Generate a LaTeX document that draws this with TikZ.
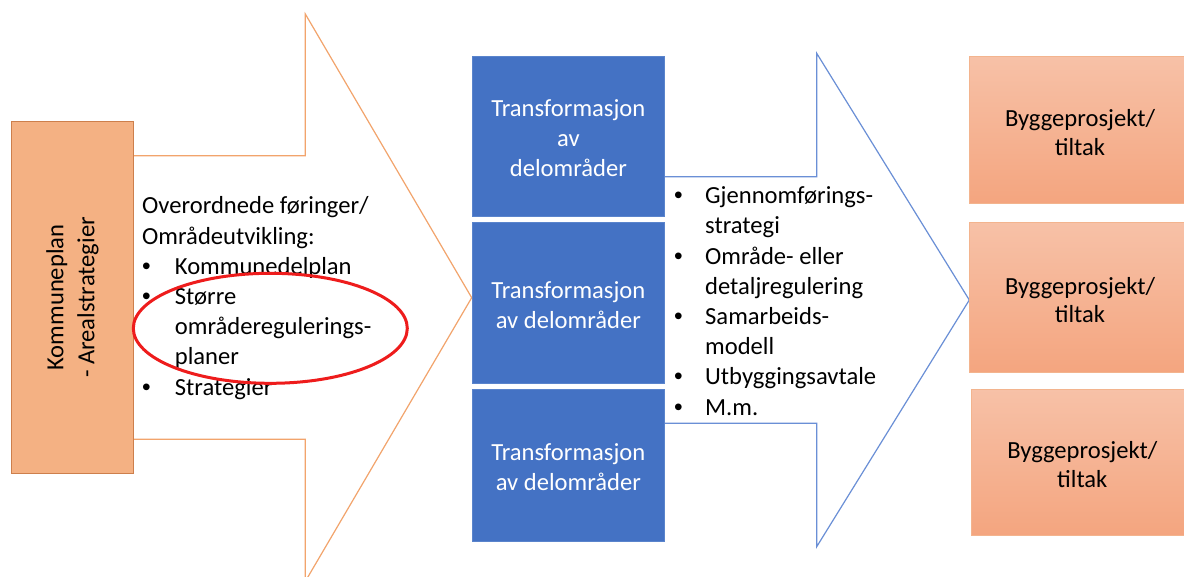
\documentclass[tikz,border=0pt]{standalone}
\usepackage{fontspec}
\setmainfont{Carlito}
\newfontfamily\bulfont{Liberation Sans}
\definecolor{boxorange}{HTML}{F4B183}
\definecolor{boxorangeline}{HTML}{CD7F4C}
\definecolor{arroworange}{HTML}{F2A46C}
\definecolor{blueA}{HTML}{4472C4}
\definecolor{blueline}{HTML}{5A84CC}
\definecolor{arrowblue}{HTML}{6A8FD6}
\definecolor{peachtop}{HTML}{F7C1A7}
\definecolor{peachbot}{HTML}{F4A57F}
\definecolor{peachline}{HTML}{F3B48E}
\definecolor{ringred}{HTML}{EE1C1C}
\newcommand{\bul}{{\bulfont\char"2022}}
\newcommand{\bitemL}[1]{\makebox[32.7pt][l]{\bul}#1}
\newcommand{\contL}[1]{\hspace*{32.7pt}#1}
\newcommand{\bitemM}[1]{\makebox[31pt][l]{\bul}#1}
\newcommand{\contM}[1]{\hspace*{31pt}#1}
\tikzset{
  txt/.style={font=\fontsize{24.6pt}{30.2pt}\selectfont},
  leftbox/.style={draw=boxorangeline, line width=1.2pt, fill=boxorange, inner sep=0pt},
  bluebox/.style={draw=blueline, line width=0.8pt, fill=blueA, inner sep=0pt},
  bluetext/.style={text=white, align=center, inner sep=0pt, font=\fontsize{24.6pt}{30pt}\selectfont},
  peachbox/.style={draw=peachline, line width=0.8pt, top color=peachtop, bottom color=peachbot, inner sep=0pt},
  peachtext/.style={align=center, inner sep=0pt, font=\fontsize{24.6pt}{28.5pt}\selectfont},
  orangearrow/.style={draw=arroworange, line width=1.2pt},
  bluearrow/.style={draw=arrowblue, line width=1.2pt},
  ring/.style={draw=ringred, line width=3pt}
}
\begin{document}
\begin{tikzpicture}[x=1pt,y=-1pt]
\useasboundingbox (0,0) rectangle (1184,576);
\clip (0,0) rectangle (1184,576);
\fill[white] (0,0) rectangle (1184,576);

% left big arrow
\fill[white] (133.3,155.7) -- (305.3,155.7) -- (305.3,14) -- (471.7,297.7) -- (305.3,581.4) -- (305.3,439.3) -- (133.3,439.3) -- cycle;
\draw[orangearrow] (133.3,155.7) -- (305.3,155.7) -- (305.3,14) -- (471.7,297.7) -- (305.3,581.4) -- (305.3,439.3) -- (133.3,439.3);

% blue arrow
\fill[white] (664,176.7) -- (816.7,176.7) -- (816.7,53.3) -- (969.3,300) -- (816.7,546.7) -- (816.7,423.3) -- (664,423.3) -- cycle;
\draw[bluearrow] (664,176.7) -- (816.7,176.7) -- (816.7,53.3) -- (969.3,300) -- (816.7,546.7) -- (816.7,423.3) -- (664,423.3);

% left box
\node[leftbox, minimum width=121.6pt, minimum height=351.6pt] (kp) at (72.5,297.5) {};
\node[rotate=90, align=center, font=\fontsize{24.6pt}{31pt}\selectfont] (kptext) at (kp.center) {Kommuneplan\\- Arealstrategier};

% left list
\node[txt, anchor=west, align=left, inner sep=0pt] (llist) at (142,298) {%
Overordnede føringer/\\
Områdeutvikling:\\
\bitemL{Kommunedelplan}\\
\bitemL{Større}\\
\contL{områderegulerings-}\\
\contL{planer}\\
\bitemL{Strategier}};

% blue boxes
\node[bluebox, minimum width=191.3pt, minimum height=160pt] (t1) at (568.35,136.7) {};
\node[bluebox, minimum width=191.3pt, minimum height=161pt] (t2) at (568.35,302.5) {};
\node[bluebox, minimum width=191.3pt, minimum height=152pt] (t3) at (568.35,465) {};
\node[bluetext, yshift=-1pt] (t1text) at (t1.center) {Transformasjon\\av\\delområder};
\node[bluetext, yshift=-2.5pt] (t2text) at (t2.center) {Transformasjon\\av delområder};
\node[bluetext, yshift=-1.8pt] (t3text) at (t3.center) {Transformasjon\\av delområder};

% middle list
\node[txt, anchor=west, align=left, inner sep=0pt] (mlist) at (674,301) {%
\bitemM{Gjennomførings-}\\
\contM{strategi}\\
\bitemM{Område- eller}\\
\contM{detaljregulering}\\
\bitemM{Samarbeids-}\\
\contM{modell}\\
\bitemM{Utbyggingsavtale}\\
\bitemM{M.m.}};

% right boxes
\node[peachbox, minimum width=221.4pt, minimum height=146.6pt] (b1) at (1080,130) {};
\node[peachbox, minimum width=221.4pt, minimum height=150pt] (b2) at (1080,297.7) {};
\node[peachbox, minimum width=221.4pt, minimum height=145.7pt] (b3) at (1082.3,462.2) {};
\node[peachtext, yshift=-2.5pt] (b1text) at (b1.center) {Byggeprosjekt/\\tiltak};
\node[peachtext, yshift=-2.5pt] (b2text) at (b2.center) {Byggeprosjekt/\\tiltak};
\node[peachtext, yshift=-2.5pt] (b3text) at (b3.center) {Byggeprosjekt/\\tiltak};

% red ellipse
\draw[ring] (270.3,328.3) ellipse [x radius=137pt, y radius=55pt];
\end{tikzpicture}
\end{document}
